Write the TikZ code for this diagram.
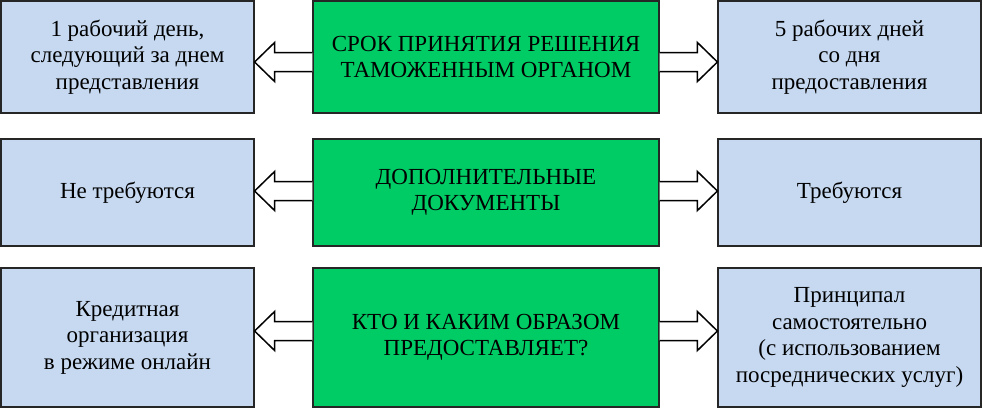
\documentclass[tikz,border=0pt]{standalone}
\usepackage{fontspec}
\setmainfont{Liberation Serif}
\usetikzlibrary{positioning, calc}
\definecolor{boxblue}{RGB}{198,217,241}
\definecolor{boxgreen}{RGB}{0,204,102}

\begin{document}
\begin{tikzpicture}[x=1pt, y=-1pt,
          side/.style={rectangle, draw=black!85, line width=1.2pt, fill=boxblue, inner sep=2pt,
                       align=center, font=\fontsize{23}{26.5}\selectfont},
          leftbox/.style={side, minimum width=253pt},
          rightbox/.style={side, minimum width=263pt},
          topic/.style={side, fill=boxgreen, minimum width=346pt},
          hollow/.style={draw=black, line width=1.5pt, fill=white, line join=miter}
        ]
        \useasboundingbox (0,0) rectangle (983,408);
        % row 1
        \node[leftbox, minimum height=112pt] (l1) at (127.5,57) {1 рабочий день,\\следующий за днем\\представления};
        \node[topic, minimum height=112pt] (g1) at (486,57) {СРОК ПРИНЯТИЯ РЕШЕНИЯ\\ТАМОЖЕННЫМ ОРГАНОМ};
        \node[rightbox, minimum height=112pt] (r1) at (849.5,57) {5 рабочих дней\\со дня\\предоставления};
        % row 2
        \node[leftbox, minimum height=107pt] (l2) at (127.5,192.5) {Не требуются};
        \node[topic, minimum height=107pt] (g2) at (486,192.5) {ДОПОЛНИТЕЛЬНЫЕ\\ДОКУМЕНТЫ};
        \node[rightbox, minimum height=107pt] (r2) at (849.5,192.5) {Требуются};
        % row 3
        \node[leftbox, minimum height=139pt] (l3) at (127.5,337.5) {Кредитная\\организация\\в режиме онлайн};
        \node[topic, minimum height=139pt] (g3) at (486,337.5) {КТО И КАКИМ ОБРАЗОМ\\ПРЕДОСТАВЛЯЕТ?};
        \node[rightbox, minimum height=139pt] (r3) at (849.5,337.5) {Принципал\\самостоятельно\\(с использованием\\посреднических услуг)};
        % block arrows
        \foreach \i/\ay in {1/62, 2/191, 3/331} {
          \coordinate (tl\i) at (l\i.east |- 0,\ay);
          \coordinate (sl\i) at (g\i.west |- 0,\ay);
          \coordinate (tr\i) at (r\i.west |- 0,\ay);
          \coordinate (sr\i) at (g\i.east |- 0,\ay);
          \draw[hollow] ($(sl\i)+(0,-9.5)$) -- ($(tl\i)+(20,-9.5)$) -- ($(tl\i)+(20,-19.5)$) -- (tl\i)
            -- ($(tl\i)+(20,19.5)$) -- ($(tl\i)+(20,9.5)$) -- ($(sl\i)+(0,9.5)$);
          \draw[hollow] ($(sr\i)+(0,-9.5)$) -- ($(tr\i)+(-20,-9.5)$) -- ($(tr\i)+(-20,-19.5)$) -- (tr\i)
            -- ($(tr\i)+(-20,19.5)$) -- ($(tr\i)+(-20,9.5)$) -- ($(sr\i)+(0,9.5)$);
        }
      \end{tikzpicture}
\end{document}
